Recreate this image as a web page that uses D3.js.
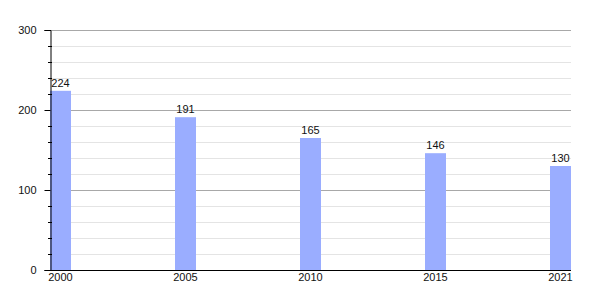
<!DOCTYPE html>
<html>
<head>
<meta charset="utf-8">
<script src="https://cdn.jsdelivr.net/npm/d3@7"></script>
<style>
  body { margin: 0; background: #fff; }
  text { font-family: "Liberation Sans", Arial, sans-serif; font-size: 11px; fill: #111; }
</style>
</head>
<body>
<svg width="600" height="300"></svg>
<script>
var svg = d3.select('svg');

// data
var years = ['2000', '2005', '2010', '2015', '2021'];
var values = [224, 191, 165, 146, 130];
var majorTicks = [0, 100, 200, 300];
var minorTicks = [20, 40, 60, 80, 120, 140, 160, 180, 220, 240, 260, 280];

// layout (note: "top" is a reserved window property, so use plotTop)
var plotLeft = 50, plotRight = 571, plotTop = 30, plotBottom = 270;
var barWidth = 21;

var xScale = d3.scalePoint().domain(years).range([plotLeft, 550]);
var yScale = d3.scaleLinear().domain([0, 300]).range([plotBottom, plotTop]);

function yPix(d) { return Math.round(yScale(d)) + 0.5; }

// minor gridlines
svg.append('g').selectAll('line')
    .data(minorTicks)
    .enter().append('line')
    .attr('x1', plotLeft).attr('x2', plotRight)
    .attr('y1', yPix).attr('y2', yPix)
    .attr('stroke', '#e4e4e4');

// major gridlines
svg.append('g').selectAll('line')
    .data(majorTicks.slice(1))
    .enter().append('line')
    .attr('x1', plotLeft).attr('x2', plotRight)
    .attr('y1', yPix).attr('y2', yPix)
    .attr('stroke', '#a8a8a8');

// bars
svg.append('g').selectAll('rect')
    .data(values)
    .enter().append('rect')
    .attr('x', function(d, i){ return xScale(years[i]); })
    .attr('y', function(d){ return yScale(d); })
    .attr('width', barWidth)
    .attr('height', function(d){ return plotBottom - yScale(d); })
    .attr('fill', '#9aadff');

// value labels
svg.append('g').selectAll('text')
    .data(values)
    .enter().append('text')
    .attr('x', function(d, i){ return xScale(years[i]) + barWidth / 2; })
    .attr('y', function(d){ return yScale(d) - 4; })
    .attr('text-anchor', 'middle')
    .text(function(d){ return d; });

// y axis
var yAxis = d3.axisLeft(yScale).tickValues(majorTicks).tickSize(6).tickPadding(8);
var yG = svg.append('g')
    .attr('transform', 'translate(' + (plotLeft + 0.5) + ',0)')
    .call(yAxis);
yG.select('.domain').attr('stroke', '#000');
yG.selectAll('.tick line').attr('stroke', '#000');
yG.selectAll('text').style('font-size', '11px').attr('fill', '#111')
    .style('font-family', '"Liberation Sans", Arial, sans-serif');

// minor tick marks on y axis
svg.append('g').selectAll('line')
    .data(minorTicks)
    .enter().append('line')
    .attr('x1', plotLeft - 2).attr('x2', plotLeft + 2)
    .attr('y1', yPix).attr('y2', yPix)
    .attr('stroke', '#000');

// x axis line
svg.append('line')
    .attr('x1', plotLeft).attr('x2', plotRight)
    .attr('y1', plotBottom + 0.5).attr('y2', plotBottom + 0.5)
    .attr('stroke', '#000');

// year labels
svg.append('g').selectAll('text')
    .data(years)
    .enter().append('text')
    .attr('x', function(d){ return xScale(d) + barWidth / 2; })
    .attr('y', plotBottom + 11)
    .attr('text-anchor', 'middle')
    .text(function(d){ return d; });
</script>
</body>
</html>
